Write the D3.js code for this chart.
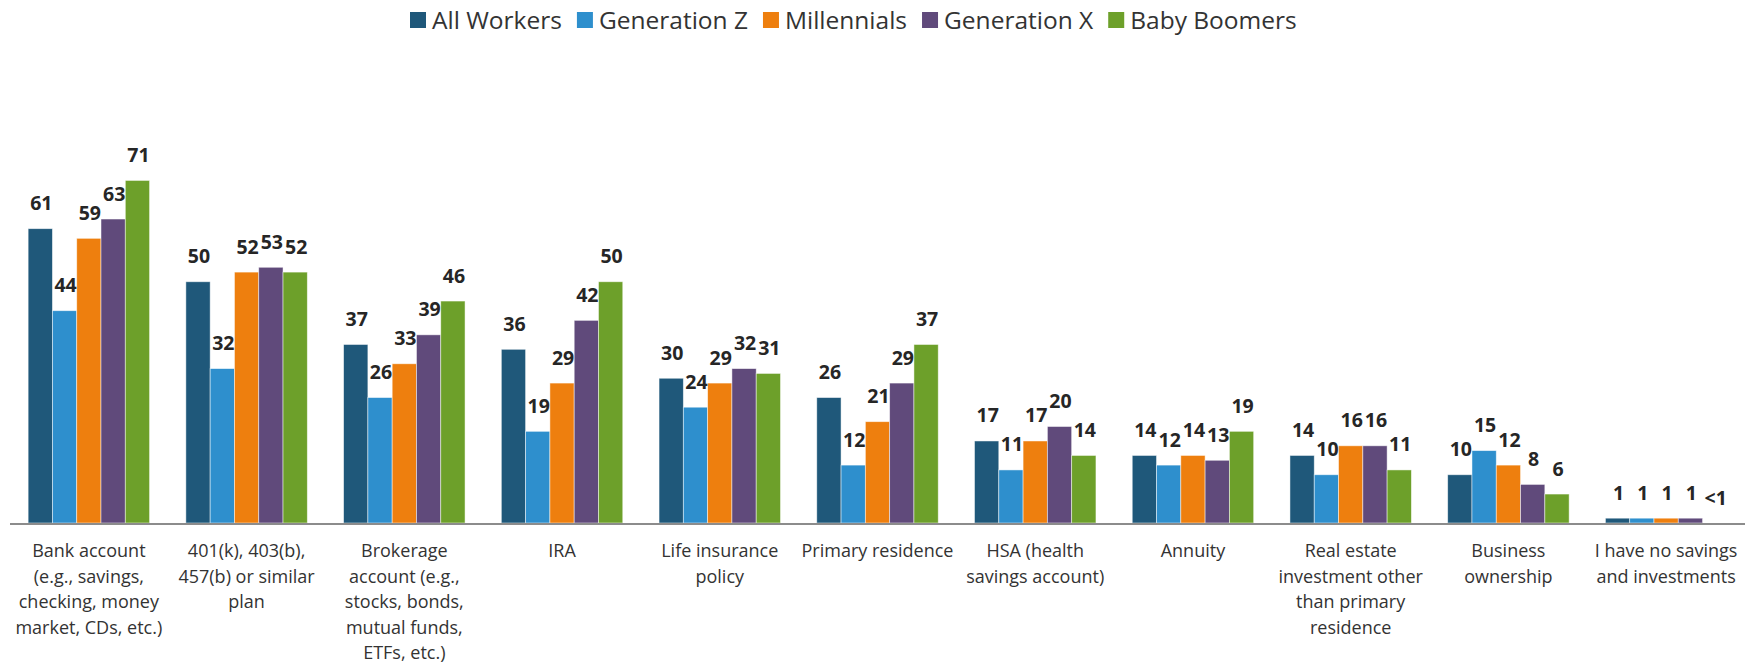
<!DOCTYPE html>
<html>
<head>
<meta charset="utf-8">
<script src="https://cdn.jsdelivr.net/npm/d3@7"></script>
<style>
  html, body { margin: 0; padding: 0; background: #fff; }
  svg { display: block; }
</style>
</head>
<body>
<svg id="chart" width="1754" height="667"></svg>
<script>
const categories = [
  "Bank account\n(e.g., savings,\nchecking, money\nmarket, CDs, etc.)",
  "401(k), 403(b),\n457(b) or similar\nplan",
  "Brokerage\naccount (e.g.,\nstocks, bonds,\nmutual funds,\nETFs, etc.)",
  "IRA",
  "Life insurance\npolicy",
  "Primary residence",
  "HSA (health\nsavings account)",
  "Annuity",
  "Real estate\ninvestment other\nthan primary\nresidence",
  "Business\nownership",
  "I have no savings\nand investments"
];
const seriesNames = ["All Workers", "Generation Z", "Millennials", "Generation X", "Baby Boomers"];
const seriesColors = ["#1F587A", "#2E8FCD", "#EE7F0E", "#604A7B", "#6DA02A"];
const allWorkers  = [61, 50, 37, 36, 30, 26, 17, 14, 14, 10, 1];
const generationZ = [44, 32, 26, 19, 24, 12, 11, 12, 10, 15, 1];
const millennials = [59, 52, 33, 29, 29, 21, 17, 14, 16, 12, 1];
const generationX = [63, 53, 39, 42, 32, 29, 20, 13, 16, 8, 1];
const babyBoomers = [71, 52, 46, 50, 31, 37, 14, 19, 11, 6, 0];
// label overrides (value shown as text where it differs from the number)
const boomerLabels = ["71", "52", "46", "50", "31", "37", "14", "19", "11", "6", "<1"];

const seriesValues = [allWorkers, generationZ, millennials, generationX, babyBoomers];
const seriesLabels = [allWorkers.map(String), generationZ.map(String), millennials.map(String), generationX.map(String), boomerLabels];

const FONT = "'Open Sans', Lato, sans-serif";
const svg = d3.select("#chart");

const baseY = 523;
const y = d3.scaleLinear().domain([0, 80]).range([baseY, 137]);
const x0 = d3.scaleBand().domain(categories).range([10, 1745]).paddingInner(0.23).paddingOuter(0.115);
const x1 = d3.scaleBand().domain(seriesNames).range([0, x0.bandwidth()]).padding(0);
const color = d3.scaleOrdinal().domain(seriesNames).range(seriesColors);

const rows = [];
categories.forEach((c, i) => {
  seriesNames.forEach((s, j) => {
    rows.push({cat: c, series: s, value: seriesValues[j][i], label: seriesLabels[j][i]});
  });
});

const g = svg.append("g");
g.selectAll("rect.bar").data(rows).join("rect")
  .attr("class", "bar")
  .attr("x", d => x0(d.cat) + x1(d.series))
  .attr("width", x1.bandwidth())
  .attr("y", d => y(d.value))
  .attr("height", d => baseY - y(d.value))
  .attr("fill", d => color(d.series))
  .attr("stroke", "rgba(255,255,255,0.6)")
  .attr("stroke-width", 0.8);

g.selectAll("text.val").data(rows).join("text")
  .attr("class", "val")
  .attr("x", d => x0(d.cat) + x1(d.series) + x1.bandwidth() / 2 + 1)
  .attr("y", d => y(d.value) - 18.5)
  .attr("text-anchor", "middle")
  .attr("font-family", FONT)
  .attr("font-weight", "bold")
  .attr("font-size", 19.5)
  .attr("fill", "#262626")
  .text(d => d.label);

// axis line
svg.append("line")
  .attr("x1", 10).attr("x2", 1745)
  .attr("y1", baseY + 1).attr("y2", baseY + 1)
  .attr("stroke", "#8c8c8c").attr("stroke-width", 2);

// category labels
const cl = svg.append("g");
categories.forEach(c => {
  const t = cl.append("text")
    .attr("x", x0(c) + x0.bandwidth() / 2)
    .attr("y", 557)
    .attr("text-anchor", "middle")
    .attr("font-family", FONT)
    .attr("font-size", 18)
    .attr("fill", "#333");
  c.split("\n").forEach((line, k) => {
    t.append("tspan").attr("x", x0(c) + x0.bandwidth() / 2).attr("y", 557 + k * 25.5).text(line);
  });
});

// legend
const leg = svg.append("g");
let lx = 0;
seriesNames.forEach((s, i) => {
  const it = leg.append("g").attr("transform", `translate(${lx},0)`);
  it.append("rect").attr("x", 0).attr("y", 12).attr("width", 16).attr("height", 16).attr("fill", seriesColors[i]);
  const tx = it.append("text").attr("x", 22).attr("y", 28.5).attr("font-family", FONT).attr("font-size", 24.5).attr("fill", "#333").text(s);
  const w = tx.node().getComputedTextLength();
  lx += 22 + w + 15;
});
leg.attr("transform", `translate(410,0)`);
</script>
</body>
</html>
